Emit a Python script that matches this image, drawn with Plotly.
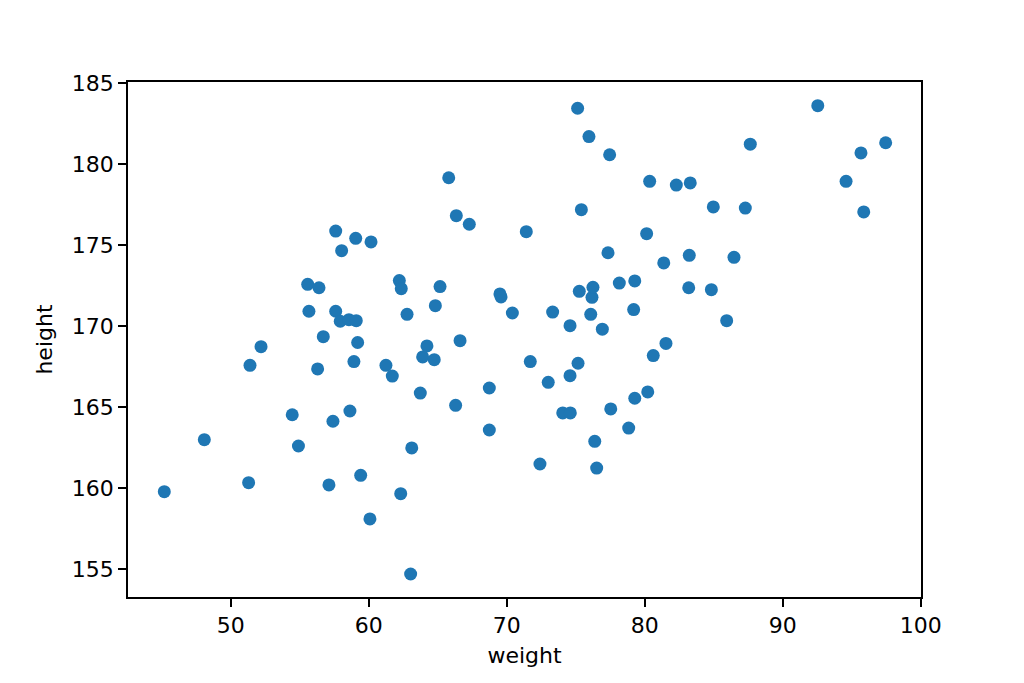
import plotly.graph_objects as go

weight = [45.19, 48.09, 51.30, 51.40, 52.20, 54.46, 54.91, 55.58, 56.40, 55.67,
          56.30, 56.71, 57.12, 57.41, 57.61, 58.04, 59.06, 60.17, 57.61, 57.94,
          58.57, 59.10, 59.20, 58.93, 58.64, 59.42, 60.09, 61.25, 61.71, 62.32,
          62.22, 62.36,
          62.78, 63.12, 63.04, 63.74, 63.91, 64.22, 64.75, 64.83, 65.17, 65.80,
          66.30, 66.35, 66.62, 67.29, 68.74, 68.74, 69.51, 69.59, 70.41, 71.42,
          71.71, 72.41, 73.01, 73.33, 74.06, 74.59, 74.59, 74.61, 75.14, 75.17,
          75.26, 75.41, 75.96, 76.09, 76.18, 76.25, 76.38, 76.52, 76.93, 77.34,
          77.46, 77.54, 78.16, 78.84, 79.20, 79.28, 79.28, 80.14, 80.22, 80.36,
          80.62, 81.38, 81.54, 82.29, 83.19, 83.23, 83.30, 84.83, 84.97, 85.94,
          86.47, 87.29, 87.65, 92.54, 94.59, 95.67, 95.87, 97.46]

height = [159.77, 162.98, 160.33, 167.57, 168.72, 164.52, 162.59, 172.57, 172.36, 170.91,
          167.35, 169.34, 160.19, 164.12, 175.86, 174.65, 175.41, 175.19, 170.91, 170.29,
          170.39, 170.33, 168.98, 167.80, 164.75, 160.78, 158.09, 167.57, 166.91, 159.65,
          172.80, 172.30,
          170.72, 162.47, 154.69, 165.86, 168.09, 168.77, 167.92, 171.25, 172.43, 179.15,
          165.10, 176.81, 169.09, 176.28, 166.17, 163.58, 171.98, 171.79, 170.80, 175.82,
          167.80, 161.48, 166.52, 170.86, 164.63, 170.02, 166.93, 164.63, 183.44, 167.70,
          172.14, 177.18, 181.69, 170.72, 171.77, 172.39, 162.88, 161.23, 169.80, 174.52,
          180.57, 164.88, 172.65, 163.70, 171.01, 172.78, 165.54, 175.70, 165.93, 178.93,
          168.17, 173.89, 168.92, 178.70, 172.36, 174.36, 178.83, 172.24, 177.35, 170.33,
          174.24, 177.28, 181.22, 183.60, 178.93, 180.68, 177.04, 181.31]

x_ticks = [50, 60, 70, 80, 90, 100]
y_ticks = [155, 160, 165, 170, 175, 180, 185]

fig = go.Figure(go.Scatter(
    x=weight, y=height, mode="markers",
    marker=dict(color="#1f77b4", size=13, line=dict(width=0)),
))

font = dict(family="DejaVu Sans", size=22, color="black")
axis_common = dict(
    showgrid=False, zeroline=False, showline=True, linecolor="black", linewidth=1.6,
    mirror=True, ticks="outside", ticklen=8, tickwidth=1.6, tickcolor="black",
    tickfont=font,
)
fig.update_xaxes(range=[42.56, 100.02], tickvals=x_ticks,
                 title=dict(text="weight", font=font, standoff=10), **axis_common)
fig.update_yaxes(range=[153.27, 185.06], tickvals=y_ticks,
                 title=dict(text="height", font=font, standoff=13), **axis_common)

fig.update_layout(
    width=1024, height=683,
    margin=dict(l=120, r=111, t=74, b=94),
    paper_bgcolor="white", plot_bgcolor="white",
    showlegend=False, font=font,
)

fig.write_html("out.html")
